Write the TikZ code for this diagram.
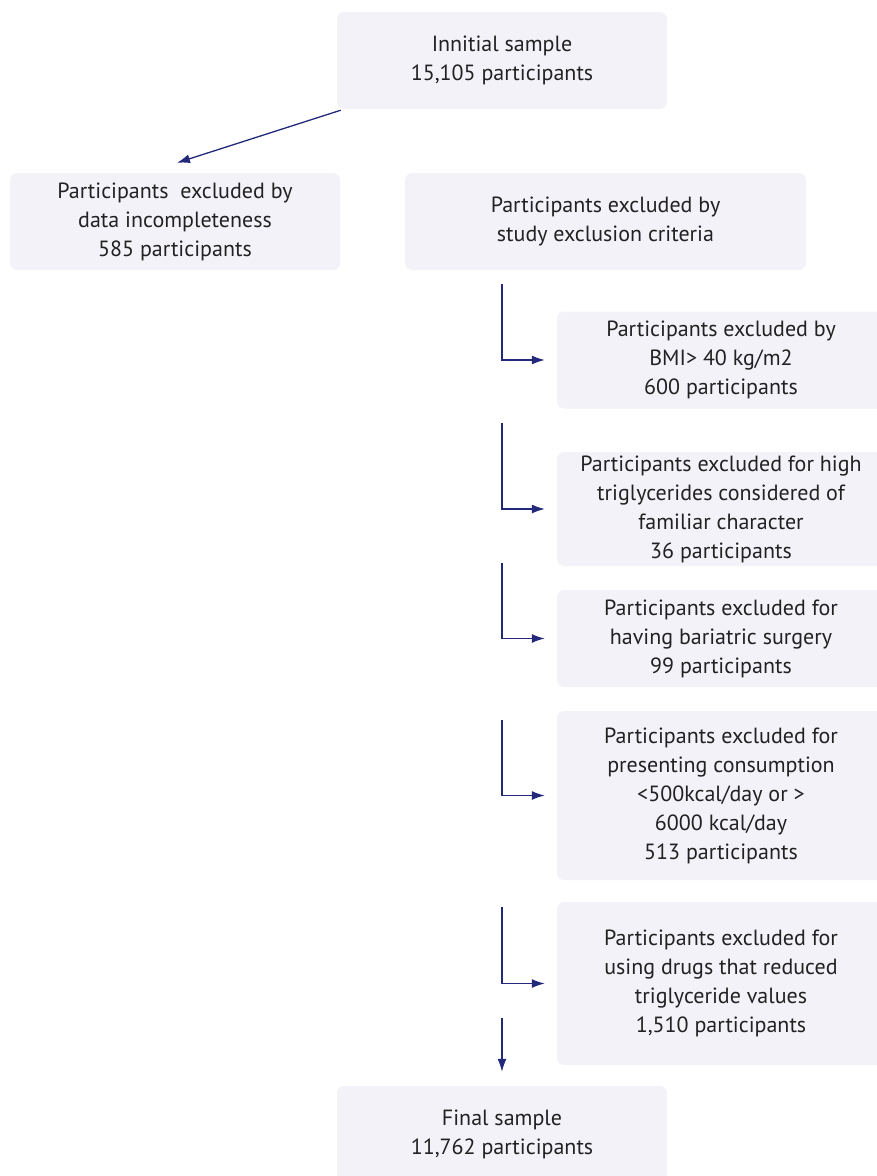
\documentclass[tikz,border=0pt]{standalone}
\usepackage{fontspec}
\setmainfont{PT Sans}
\usepackage{tikz}
\usetikzlibrary{positioning}
\usetikzlibrary{arrows.meta, calc}
\usepackage{xcolor}
\definecolor{myboxgray}{RGB}{243, 242, 248}
\definecolor{mynavy}{RGB}{34, 40, 122}
\definecolor{mytext}{RGB}{34, 34, 34}

\begin{document}
\begin{tikzpicture}[
            x=1pt, y=-1pt,
            box/.style={
                rectangle,
                rounded corners=7pt,
                fill=myboxgray,
                text=mytext,
                align=center,
                inner sep=0pt,
                minimum width=330pt,
                minimum height=97pt,
                font=\fontsize{22}{29}\selectfont
            },
            arr/.style={-{Latex[length=13pt, width=9pt]}, draw=mynavy, line width=1.3pt}
        ]

            \clip (0,0) rectangle (877,1176);

            % Nodes
            \node[box] (initial) at (502,60.5) {Innitial sample\\15,105 participants};

            \node[box] (incomplete) at (175,221.5) {Participants\ \ excluded by\\data incompleteness\\585 participants};

            \node[box, minimum width=401pt] (criteria) at (605.5,221.5) {Participants excluded by\\study exclusion criteria};

            \node[box, minimum width=328pt] (bmi) at (721,360) {Participants excluded by\\BMI> 40 kg/m2\\600 participants};

            \node[box, minimum width=328pt, minimum height=114pt] (trig) at (721,509) {Participants excluded for high\\triglycerides considered of\\familiar character\\36 participants};

            \node[box, minimum width=328pt] (bariatric) at (721,638.5) {Participants excluded for\\having bariatric surgery\\99 participants};

            \node[box, minimum width=328pt, minimum height=169pt] (consumption) at (721,795.5) {Participants excluded for\\presenting consumption\\<500kcal/day or >\\6000 kcal/day\\513 participants};

            \node[box, minimum width=328pt, minimum height=163pt] (drugs) at (721,983.5) {Participants excluded for\\using drugs that reduced\\triglyceride values\\1,510 participants};

            \node[box] (final) at (502,1134.5) {Final sample\\11,762 participants};

            % Start points of the arrows
            \coordinate (s1) at (502,284);
            \coordinate (s2) at (502,423);
            \coordinate (s3) at (502,563);
            \coordinate (s4) at (502,720);
            \coordinate (s5) at (502,907);
            \coordinate (s6) at (502,1018);

            % Arrows
            \draw[arr] ([xshift=4pt,yshift=-1pt]initial.south west) -- ([xshift=2pt,yshift=10pt]incomplete.north);
            \draw[arr, shorten >=12pt] (s1) |- (bmi.west);
            \draw[arr, shorten >=12pt] (s2) |- (trig.west);
            \draw[arr, shorten >=12pt] (s3) |- (bariatric.west);
            \draw[arr, shorten >=12pt] (s4) |- (consumption.west);
            \draw[arr, shorten >=12pt] (s5) |- (drugs.west);
            \draw[arr, shorten >=14pt] (s6) -- (final.north);
        \end{tikzpicture}
\end{document}
